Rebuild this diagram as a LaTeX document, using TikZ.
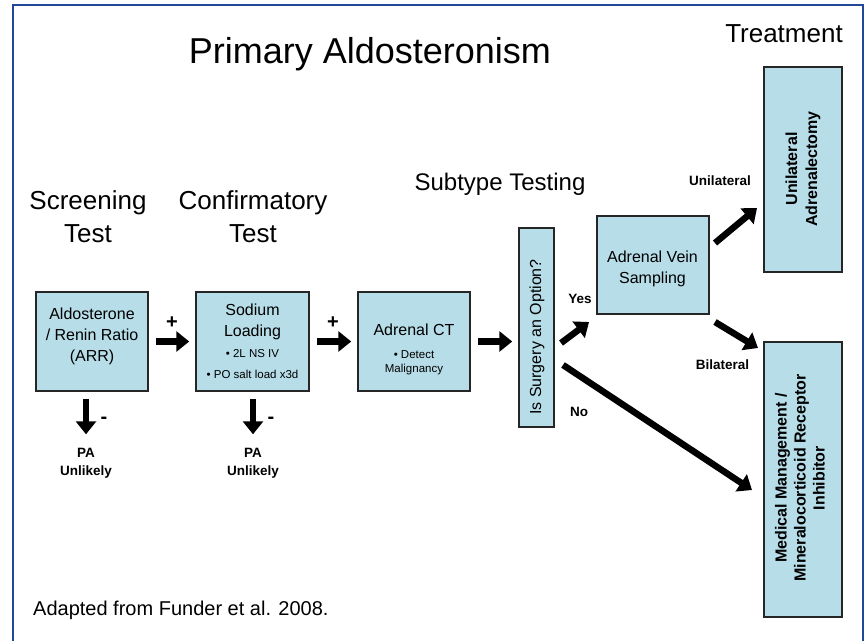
\documentclass[tikz,border=0pt]{standalone}
\usepackage{fontspec}
\setmainfont{Liberation Sans}
\usetikzlibrary{arrows.meta,positioning}
\definecolor{boxblue}{RGB}{183,221,232}
\definecolor{frameblue}{RGB}{32,72,150}

\begin{document}
\begin{tikzpicture}[x=1pt,y=-1pt,
  box/.style={draw=black!85,fill=boxblue,line width=1.5pt,inner sep=0pt},
  txt/.style={inner sep=0pt,align=center,font=\fontsize{16}{21}\selectfont},
  lbl/.style={inner sep=0pt,align=center,font=\bfseries\fontsize{13.5}{18}\selectfont},
  head/.style={inner sep=0pt,align=center,font=\fontsize{26}{33}\selectfont},
  sign/.style={inner sep=0pt,font=\bfseries\fontsize{20}{24}\selectfont},
  fat/.style={line width=6.5pt,-{Triangle[length=13pt,width=20pt]}}]

\newcommand{\sm}{\fontsize{11.5}{14}\selectfont}
\useasboundingbox (0,0) rectangle (867,640);
\draw[frameblue,line width=1.5pt] (13,650) -- (13,5) -- (863,5) -- (863,650);

% headings
\node[inner sep=0pt,font=\fontsize{36}{40}\selectfont,anchor=base] (title) at (370,63) {Primary Aldosteronism};
\node[inner sep=0pt,font=\fontsize{26}{30}\selectfont,anchor=base] (treat) at (784,42) {Treatment};
\node[inner sep=0pt,font=\fontsize{24}{28}\selectfont,anchor=base] (subt) at (500,190) {Subtype Testing};
\node[head] (scr) at (88,217) {Screening\\Test};
\node[head] (conf) at (253,217) {Confirmatory\\Test};

% boxes
\node[box,minimum width=112pt,minimum height=99pt] (arr) at (92,341.5) {};
\node[box,minimum width=113pt,minimum height=99pt] (sod) at (252.5,341.5) {};
\node[box,minimum width=112pt,minimum height=99pt] (ct) at (414,341.5) {};
\node[box,minimum width=35pt,minimum height=199pt] (surg) at (536.5,327.5) {};
\node[box,minimum width=112pt,minimum height=98pt] (avs) at (653,265) {};
\node[box,minimum width=78pt,minimum height=205pt] (uni) at (803,169.5) {};
\node[box,minimum width=78pt,minimum height=275pt] (med) at (803,479.5) {};

% box texts
\node[txt] (arrtxt) at (92,336) {Aldosterone\\/ Renin Ratio\\(ARR)};
\node[txt] (sodtxt) at (252.5,341) {Sodium\\Loading\\{\sm • 2L NS IV}\\{\sm • PO salt load x3d}};
\node[txt] (cttxt) at (414,349) {Adrenal CT\\[2pt]{\sm • Detect}\\[-7pt]{\sm Malignancy}};
\node[txt,rotate=90] (surgtxt) at (537,337) {Is Surgery an Option?};
\node[txt] (avstxt) at (652.5,269) {Adrenal Vein\\Sampling};
\node[txt,font=\bfseries\fontsize{16}{20}\selectfont,rotate=90] (unitxt) at (803,169) {Unilateral\\Adrenalectomy};
\node[txt,font=\bfseries\fontsize{16}{19}\selectfont,rotate=90] (medtxt) at (800,478) {Medical Management /\\Mineralocorticoid Receptor\\Inhibitor};

% labels
\node[sign] (p1) at (172,323) {+};
\node[sign] (p2) at (333,323) {+};
\node[lbl] (yes) at (580,299) {Yes};
\node[lbl] (no) at (579,412) {No};
\node[lbl] (unil) at (720,181) {Unilateral};
\node[lbl] (bil) at (722.5,365) {Bilateral};

\foreach \n/\b/\x in {1/arr/86,2/sod/253}{
  \node[lbl] (pa\n) at (\x,463.5) {PA\\Unlikely};
  \node[sign] (m\n) at (\x+18,420) {-};
  \draw[fat,shorten <=7pt,shorten >=14pt] (\b.south -| pa\n.north) -- (pa\n.north);
}

% arrows
\draw[fat,shorten <=7pt,shorten >=6pt] (arr.east) -- (sod.west);
\draw[fat,shorten <=7pt,shorten >=6pt] (sod.east) -- (ct.west);
\draw[fat,shorten <=7pt,shorten >=6pt] (ct.east) -- (ct.east -| surg.west);

\coordinate (yes0) at (561,343);
\coordinate (yes1) at (589,322);
\coordinate (no0) at (563,365);
\coordinate (no1) at (752,490);
\coordinate (uni0) at (715,243);
\coordinate (uni1) at (757,208);
\coordinate (bil0) at (715,322);
\coordinate (bil1) at (758,348);

\draw[fat] (yes0) -- (yes1);
\draw[fat] (no0) -- (no1);
\draw[fat] (uni0) -- (uni1);
\draw[fat] (bil0) -- (bil1);

\node[inner sep=0pt,font=\fontsize{20}{24}\selectfont,anchor=base west] (src) at (33,615) {Adapted from Funder et al. 2008.};

\end{tikzpicture}
\end{document}
